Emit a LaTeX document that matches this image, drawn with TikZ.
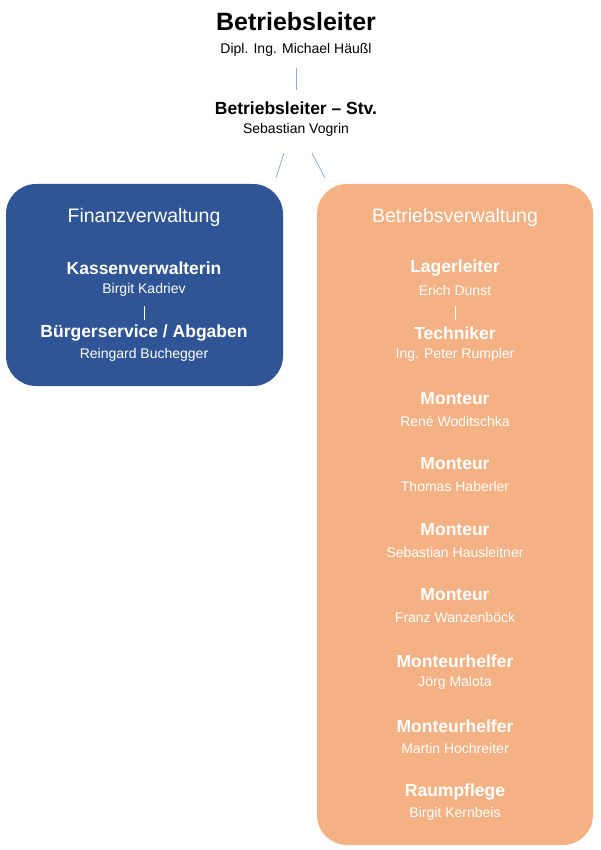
\documentclass[tikz,border=0pt]{standalone}
\usepackage{fontspec}
\setmainfont{Liberation Sans}
\definecolor{blu}{HTML}{2F5597}
\definecolor{ora}{HTML}{F4B183}
\definecolor{lin}{HTML}{8FAADC}
\begin{document}
\begin{tikzpicture}[x=1pt,y=-1pt,
  role/.style={font=\bfseries\fontsize{17.5}{20}\selectfont,text=white},
  pers/.style={font=\fontsize{14}{16}\selectfont,text=white},
  roleb/.style={font=\bfseries\fontsize{17.5}{20}\selectfont},
  persb/.style={font=\fontsize{14}{16}\selectfont},
  box/.style={rounded corners=30pt},
  conn/.style={draw=lin,line width=0.8pt},
  sep/.style={draw=white,line width=0.8pt}]
\useasboundingbox[fill=white] (0,0) rectangle (600,850);
\fill[blu,box] (6,184) rectangle (283,386);
\fill[ora,box] (317,184) rectangle (593,845);
\node[font=\bfseries\fontsize{25}{28}\selectfont] (bl) at (296,22) {Betriebsleiter};
\node[persb] (bln) at (296,50) {Dipl. Ing. Michael Häußl};
\node[roleb] (st) at (296,108) {Betriebsleiter – Stv.};
\node[persb] (stn) at (296,130) {Sebastian Vogrin};
\coordinate (a1) at (296,68); \coordinate (a2) at (296,90);
\draw[conn] (a1) -- (a2);
\coordinate (b1) at (284,153); \coordinate (b2) at (276,178);
\coordinate (c1) at (312,153); \coordinate (c2) at (325,178);
\draw[conn] (b1) -- (b2);
\draw[conn] (c1) -- (c2);
\node[font=\fontsize{19.5}{22}\selectfont,text=white] (fv) at (144,217) {Finanzverwaltung};
\node[role] (k) at (144,268) {Kassenverwalterin};
\node[pers] (kn) at (144,290) {Birgit Kadriev};
\node[role] (bu) at (144,333) {Bürgerservice / Abgaben};
\node[pers] (bun) at (144,355) {Reingard Buchegger};
\coordinate (s1) at (144,306); \coordinate (s2) at (144,320);
\draw[sep] (s1) -- (s2);
\node[font=\fontsize{19.5}{22}\selectfont,text=white] (bv) at (455,217) {Betriebsverwaltung};
\coordinate (t1) at (455,306); \coordinate (t2) at (455,320);
\draw[sep] (t1) -- (t2);
\foreach \r/\p/\y [count=\i] in {Lagerleiter/Erich Dunst/268, Techniker/Ing. Peter Rumpler/333, Monteur/René Woditschka/399, Monteur/Thomas Haberler/464, Monteur/Sebastian Hausleitner/530, Monteur/Franz Wanzenböck/595, Monteurhelfer/Jörg Malota/661, Monteurhelfer/Martin Hochreiter/726, Raumpflege/Birgit Kernbeis/792}{
  \node[role] (r\i) at (455,\y) {\r};
  \node[pers] (p\i) at (455,\y+22) {\p};
}
\end{tikzpicture}
\end{document}
